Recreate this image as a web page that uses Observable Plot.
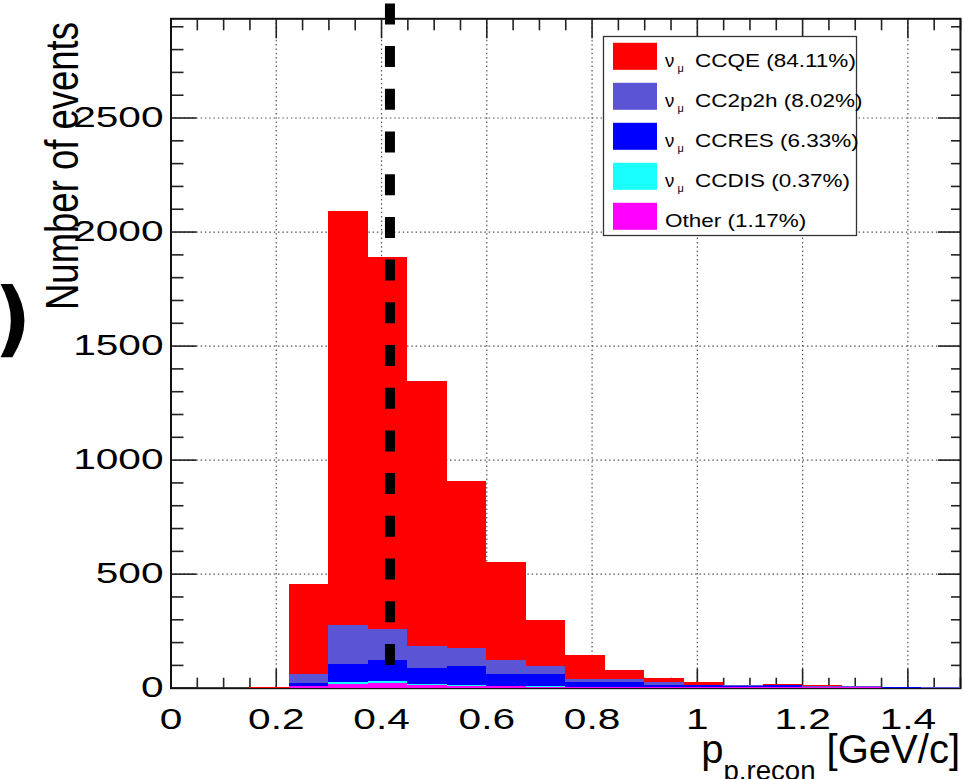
<!DOCTYPE html>
<html>
<head>
<meta charset="utf-8">
<script src="https://cdn.jsdelivr.net/npm/d3@7"></script>
<script src="https://cdn.jsdelivr.net/npm/@observablehq/plot@0.6"></script>
<style>
  html, body { margin: 0; padding: 0; background: #fff; }
  #chart { position: relative; width: 964px; height: 779px; overflow: hidden; }
</style>
</head>
<body>
<div id="chart"></div>
<script>
// ---- data ----
const binLo = [0, 0.075, 0.15, 0.225, 0.3, 0.375, 0.45, 0.525, 0.6, 0.675,
               0.75, 0.825, 0.9, 0.975, 1.05, 1.125, 1.2, 1.275, 1.35, 1.425];
const binWidth = 0.075;

// stacking order: bottom -> top
const categories = ["Other", "CCDIS", "CCRES", "CC2p2h", "CCQE"];
const catColors  = ["#ff00ff", "#19ffff", "#0000ff", "#5b55d5", "#ff0000"];

const otherVals  = [0, 0, 0, 7, 17, 20, 10, 9, 7, 5, 3, 2, 1, 1, 1, 1, 1, 1, 0, 0];
const ccdisVals  = [0, 0, 0, 2, 6, 9, 5, 3, 2, 1, 1, 1, 0, 0, 0, 0, 0, 0, 0, 0];
const ccresVals  = [0, 0, 0, 13, 80, 94, 70, 82, 49, 52, 23, 23, 13, 10, 6, 9, 4, 2, 2, 0];
const cc2p2hVals = [0, 0, 0, 38, 174, 133, 100, 78, 64, 35, 13, 11, 9, 2, 3, 2, 2, 3, 3, 1];
const ccqeVals   = [0, 0, 4, 393, 1814, 1633, 1160, 734, 429, 205, 102, 40, 19, 12, 2, 3, 5, 0, 0, 0];

// legend (top -> bottom)
const legendNu     = [true, true, true, true, false];
const legendLabels = ["CCQE (84.11%)", "CC2p2h (8.02%)", "CCRES (6.33%)", "CCDIS (0.37%)", "Other (1.17%)"];
const legendCats   = ["CCQE", "CC2p2h", "CCRES", "CCDIS", "Other"];

const cutValue = 0.416;          // dashed cut line position
const cutYRange = [100, 3000];   // extent of the dashed line

const xMajor = [0, 0.2, 0.4, 0.6, 0.8, 1, 1.2, 1.4];
const yMajor = [0, 500, 1000, 1500, 2000, 2500];
const xMinor = d3.range(0, 1.5001, 0.05).filter(v => !xMajor.some(m => Math.abs(m - v) < 1e-6));
const yMinor = d3.range(0, 2935, 100).filter(v => v % 500 !== 0);

const yTitle = "Number of events";
const panelMark = ")";

// ---- tidy table ----
const seriesByCat = {Other: otherVals, CCDIS: ccdisVals, CCRES: ccresVals, CC2p2h: cc2p2hVals, CCQE: ccqeVals};
const rows = [];
for (const c of categories) {
  seriesByCat[c].forEach((v, i) => rows.push({cat: c, x1: binLo[i], x2: binLo[i] + binWidth, n: v}));
}

const W = 964, H = 779;
const mL = 170.5, mR = 4, mT = 18.3, mB = 91.3;
const tickStyle = {stroke: "#222", strokeWidth: 1.6, fill: "none", label: null};

const plot = Plot.plot({
  width: W, height: H,
  marginLeft: mL, marginRight: mR, marginTop: mT, marginBottom: mB,
  x: {domain: [0, 1.5], axis: null},
  y: {domain: [0, 2935], axis: null},
  color: {domain: categories, range: catColors},
  style: {fontFamily: "'Liberation Sans', Arial, sans-serif", fontSize: "29px", color: "black", background: "white", overflow: "visible"},
  marks: [
    Plot.gridX(xMajor.filter(v => v > 0), {stroke: "#555", strokeOpacity: 1, strokeWidth: 1.2, strokeDasharray: "1.5,2.8"}),
    Plot.gridY(yMajor.filter(v => v > 0), {stroke: "#555", strokeOpacity: 1, strokeWidth: 1.2, strokeDasharray: "1.5,2.8"}),
    // ticks (inward, ROOT style)
    Plot.axisX(xMajor, {anchor: "bottom", tickSize: -19, ...tickStyle}),
    Plot.axisX(xMinor, {anchor: "bottom", tickSize: -10, ...tickStyle}),
    Plot.axisX(xMajor, {anchor: "top", tickSize: -19, ...tickStyle}),
    Plot.axisX(xMinor, {anchor: "top", tickSize: -11, ...tickStyle}),
    Plot.axisY(yMajor, {anchor: "left", tickSize: -26, ...tickStyle}),
    Plot.axisY(yMinor, {anchor: "left", tickSize: -13, ...tickStyle}),
    Plot.axisY(yMajor, {anchor: "right", tickSize: -23, ...tickStyle}),
    Plot.axisY(yMinor, {anchor: "right", tickSize: -10, ...tickStyle}),
    // tick labels
    Plot.axisX(xMajor, {anchor: "bottom", tickSize: 0, tickPadding: 20, label: null, fontSize: 29, tickFormat: d => String(d)}),
    Plot.axisY(yMajor, {anchor: "left", tickSize: 0, tickPadding: 7.5, label: null, fontSize: 29, tickFormat: d => String(d)}),
    Plot.frame({stroke: "#111", strokeWidth: 2}),
    // stacked histogram
    Plot.rectY(rows, Plot.stackY({
      x1: "x1", x2: "x2", y: "n", fill: "cat", z: "cat",
      order: categories, shapeRendering: "crispEdges"
    })),
    // dashed cut line
    Plot.ruleX([cutValue], {y1: cutYRange[0], y2: cutYRange[1], stroke: "black", strokeWidth: 10, strokeDasharray: "21,21.7", clip: false})
  ]
});

const container = document.getElementById("chart");
container.append(plot);
const svg = d3.select(plot);

function stretch(sel, k) {
  sel.each(function () {
    const L = this.getComputedTextLength();
    this.setAttribute("textLength", (L * k).toFixed(2));
    this.setAttribute("lengthAdjust", "spacingAndGlyphs");
  });
}
stretch(svg.selectAll('g[aria-label="x-axis tick label"] text'), 1.4);
stretch(svg.selectAll('g[aria-label="y-axis tick label"] text'), 1.4);

const ff = "'Liberation Sans', Arial, sans-serif";

// cropped panel mark at the left edge
svg.append("text")
  .attr("x", -6).attr("y", 346).attr("text-anchor", "start")
  .attr("font-family", "'DejaVu Sans', sans-serif").attr("font-weight", "bold")
  .attr("font-size", 82).attr("fill", "black")
  .text(panelMark);

// y title (glyph height stretched like the reference)
svg.append("text")
  .attr("transform", "translate(78,22) rotate(-90) scale(1,1.3)")
  .attr("text-anchor", "end")
  .attr("font-family", ff).attr("font-size", 36).attr("fill", "black")
  .attr("textLength", 288).attr("lengthAdjust", "spacingAndGlyphs")
  .text(yTitle);

// x title: p_{p,recon} [GeV/c]
const xt = svg.append("text")
  .attr("x", 960).attr("y", 763).attr("text-anchor", "end")
  .attr("font-family", ff).attr("font-size", 40).attr("fill", "black");
xt.append("tspan").text("p");
xt.append("tspan").attr("font-size", 27.6).attr("dy", 16.5).text("p,recon");
xt.append("tspan").attr("dy", -16.5).text("\u00a0[GeV/c]");

// legend
const lg = svg.append("g").attr("font-family", ff).attr("fill", "black").attr("text-anchor", "start");
lg.append("rect").attr("x", 603.5).attr("y", 36.5).attr("width", 253).attr("height", 199)
  .attr("fill", "white").attr("stroke", "#333").attr("stroke-width", 1.3);
const colorOf = c => catColors[categories.indexOf(c)];
legendCats.forEach((c, i) => {
  const cy = 56.3 + 40 * i;
  lg.append("rect").attr("x", 613).attr("y", cy - 13.5).attr("width", 44).attr("height", 27).attr("fill", colorOf(c));
  let tx = 665;
  if (legendNu[i]) {
    lg.append("text").attr("x", 665).attr("y", cy + 10.4).attr("font-size", 18.6).text("\u03bd");
    lg.append("text").attr("x", 677.5).attr("y", cy + 15.5).attr("font-size", 11).text("\u03bc");
    tx = 695;
  }
  const t = lg.append("text").attr("x", tx).attr("y", cy + 10.4).attr("font-size", 18.6).text(legendLabels[i]);
  stretch(t, 1.21);
});
</script>
</body>
</html>
